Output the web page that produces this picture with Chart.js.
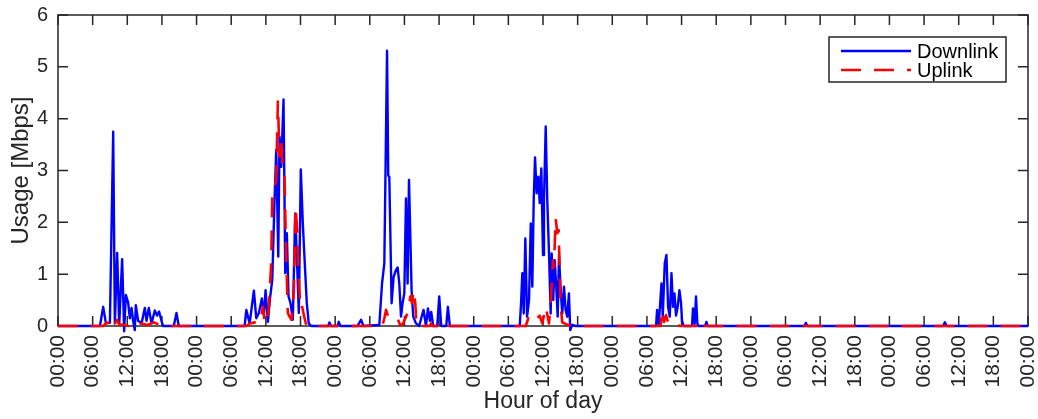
<!DOCTYPE html>
<html>
<head>
<meta charset="utf-8">
<title>Usage per hour of day</title>
<script src="https://cdn.jsdelivr.net/npm/chart.js@4.4.1/dist/chart.umd.min.js"></script>
<style>
  html, body { margin: 0; padding: 0; background: #fff; }
  canvas { display: block; }
</style>
</head>
<body>
<canvas id="usageChart" width="1038" height="419"></canvas>
<script>
// hours since start of the week -> Mbps
const downlink = [
    [0, 0],
    [7.26, 0], [7.83, 0.37], [8.30, 0.05], [8.99, 0.06], [9.56, 3.75], [9.85, 0.05], [10.25, 1.41], [10.60, 0.02],
    [11.11, 1.29], [11.46, -0.1], [11.75, 0.6], [12.15, 0.45], [12.44, 0.15], [12.74, 0.35], [13.01, 0.1], [13.30, -0.08],
    [13.48, 0.4], [13.88, 0.1], [14.47, 0.05], [15.04, 0.35], [15.33, 0.1], [15.73, 0.35], [16.20, 0.05], [16.77, 0.3],
    [17.16, 0.2], [17.51, 0.28], [17.92, 0.1], [18.20, 0],
    [20.05, 0], [20.52, 0.25], [20.91, 0],
    [32.32, 0], [32.62, 0.31], [33.19, 0.05], [33.93, 0.68], [34.34, 0.15], [34.79, 0.25], [35.31, 0.53], [35.66, 0.21],
    [35.95, 0.69], [36.35, 0.08], [36.76, 0.57], [37.11, 0.89], [37.51, 2.46], [37.80, 3.4], [38.15, 1.34], [38.37, 3.65],
    [38.66, 3.07], [39.06, 4.37], [39.36, 1.02], [39.63, 1.79], [39.93, 0.57], [40.27, 0.44], [40.67, 0.12], [41.08, 2.17],
    [41.43, 1.14], [41.71, 0.25], [42.05, 3.02], [42.40, 1.98], [42.74, 1.21], [43.09, 0.44], [43.43, 0.05], [43.85, 0],
    [46.80, 0], [47.01, 0.07], [47.27, 0], [48.40, 0], [48.62, 0.08], [48.91, 0],
    [51.85, 0], [52.49, 0.12], [52.89, 0],
    [55.65, 0.02], [56.12, 0.82], [56.52, 1.21], [56.99, 5.31], [57.20, 2.9], [57.38, 2.88], [57.78, 0.44], [58.13, 0.95],
    [58.54, 1.08], [58.82, 1.13], [59.11, 0.82], [59.41, 0.18], [59.68, 0.44], [59.98, 0.63], [60.27, 2.46], [60.55, 0.82],
    [60.79, 2.82], [61.01, 1.79], [61.24, 0.69], [61.53, 0.18], [62.00, 0.05], [62.57, 0], [62.91, 0.15], [63.31, 0.31],
    [63.73, 0], [64.07, 0.34], [64.42, 0.1], [64.64, 0.27], [64.99, 0], [65.68, 0], [66.03, 0.57], [66.37, 0],
    [67.24, 0], [67.53, 0.37], [67.87, 0],
    [79.97, 0], [80.20, 0.44], [80.42, 1.02], [80.66, 0.24], [80.94, 1.69], [81.24, 0.18], [81.58, 0.5], [81.88, 1.98],
    [82.15, 0.76], [82.39, 2.43], [82.62, 3.25], [82.91, 2.56], [83.19, 2.88], [83.43, 2.37], [83.71, 3.04], [84.00, 1.37],
    [84.17, 2.43], [84.47, 3.85], [84.74, 2.43], [85.04, 1.4], [85.33, 0.24], [85.50, 1.4], [85.78, 0.5], [86.02, 1.27],
    [86.30, 0.76], [86.54, 0.18], [86.77, 1.37], [87.06, 0.69], [87.34, 0.24], [87.63, 0.76], [87.92, 0.31], [88.20, 0.18],
    [88.49, 0.63], [88.72, -0.08], [89.06, 0.02], [89.65, 0],
    [103.58, 0], [103.76, 0.31], [104.05, 0.03], [104.52, 0.82], [104.74, 0.18], [105.09, 1.21], [105.38, 1.37],
    [105.66, 0.37], [105.95, 0.18], [106.25, 1.02], [106.52, 0.37], [106.77, 0.63], [107.04, 0.2], [107.33, 0.37],
    [107.63, 0.69], [107.91, 0.44], [108.08, 0.1], [108.37, 0],
    [109.81, 0], [109.98, 0.34], [110.27, 0.04], [110.50, 0.57], [110.74, 0.04], [110.96, 0],
    [112.09, 0], [112.30, 0.08], [112.52, 0],
    [129.29, 0], [129.51, 0.06], [129.80, 0],
    [153.31, 0], [153.60, 0.07], [153.91, 0],
    [168, 0]
];

const uplink = [
    [0, 0],
    [7.80, 0], [8.30, 0.05], [9.00, 0.08], [9.45, 0.18], [9.85, 0.05], [10.25, 0.12], [10.60, 0.02], [11.00, 0.03],
    [12.20, 0], [12.60, 0.05], [13.30, 0.08], [13.90, 0.03], [14.50, 0.05], [15.50, 0.02], [16.60, 0.07], [17.40, 0.03],
    [18.00, 0],
    [32.67, 0], [33.19, 0.05], [34.05, 0.07], [34.57, 0.04], [35.09, 0.1], [35.49, 0.37], [35.78, 0.1], [36.35, 0.05],
    [36.93, 1.21], [37.11, 2.5], [37.39, 2.53], [37.80, 2.88], [38.08, 4.33], [38.37, 3.27], [38.66, 3.65], [38.94, 2.95],
    [39.23, 2.88], [39.52, 1.34], [39.81, 0.25], [40.10, 0.18], [40.44, 0.12], [40.84, 0.63], [41.14, 2.3], [41.43, 1.85],
    [41.71, 0.89], [42.00, 0.31], [42.29, 0.37], [42.64, 0.18], [42.99, 0.02], [43.38, 0],
    [56.17, 0], [56.52, 0.15], [56.81, 0.31], [57.16, 0.19], [57.68, 0.15], [58.25, 0.12], [58.82, 0.15], [59.23, 0.02],
    [59.68, 0.03], [60.27, 0.18], [60.72, 0.31], [61.01, 0.57], [61.30, 0.44], [61.58, 0.69], [61.88, 0.44], [62.10, 0],
    [64.40, 0], [64.59, 0.05], [64.82, 0], [65.80, 0], [66.03, 0.05], [66.28, 0],
    [81.01, 0], [81.46, 0.15], [81.88, 0.1], [82.15, 0.18], [82.62, 0.17], [83.02, 0.15], [83.43, 0.2], [83.88, 0.05],
    [84.47, 0.37], [84.74, 0.22], [85.04, 0.05], [85.33, 0.44], [85.73, 1.27], [85.90, 1.14], [86.19, 2.08], [86.47, 1.79],
    [86.71, 1.85], [86.89, 1.08], [87.06, 0.37], [87.34, 0.07], [87.92, 0.04], [88.79, 0],
    [104.34, 0], [104.74, 0.31], [104.96, 0.08], [105.31, 0.21], [105.66, 0.07], [106.07, 0.1], [106.35, 0.04],
    [106.94, 0.02], [107.80, 0],
    [110.96, 0], [111.13, 0.1], [111.43, 0.02], [112.12, 0],
    [168, 0]
];

const hourLabels = ['00:00', '06:00', '12:00', '18:00'];
const seriesNames = ['Downlink', 'Uplink'];

const axisColor = '#262626';
const fontFamily = '"Liberation Sans", Arial, Helvetica, sans-serif';
const tickLen = 10;

// box, inward ticks and the legend, MATLAB style
const framePlugin = {
    id: 'frame',
    beforeDatasetsDraw(chart) {
        const { ctx, chartArea: a, scales: { x, y } } = chart;
        ctx.save();
        ctx.strokeStyle = axisColor;
        ctx.lineWidth = 1.5;
        ctx.strokeRect(a.left, a.top, a.right - a.left, a.bottom - a.top);
        ctx.beginPath();
        x.ticks.forEach(t => {
            const px = x.getPixelForValue(t.value);
            ctx.moveTo(px, a.bottom); ctx.lineTo(px, a.bottom - tickLen);
            ctx.moveTo(px, a.top); ctx.lineTo(px, a.top + tickLen);
        });
        y.ticks.forEach(t => {
            const py = y.getPixelForValue(t.value);
            ctx.moveTo(a.left, py); ctx.lineTo(a.left + tickLen, py);
            ctx.moveTo(a.right, py); ctx.lineTo(a.right - tickLen, py);
        });
        ctx.stroke();
        ctx.restore();
    },
    afterDatasetsDraw(chart) {
        const { ctx, chartArea: a } = chart;
        const w = 177, h = 45;
        const bx = a.right - 22 - w, by = a.top + 22;
        ctx.save();
        ctx.fillStyle = '#fff';
        ctx.fillRect(bx, by, w, h);
        ctx.strokeStyle = axisColor;
        ctx.lineWidth = 1.5;
        ctx.strokeRect(bx, by, w, h);
        ctx.font = '20px ' + fontFamily;
        ctx.textBaseline = 'middle';
        chart.data.datasets.forEach((ds, i) => {
            const ly = by + 14 + i * 19;
            ctx.strokeStyle = ds.borderColor;
            ctx.lineWidth = 2.5;
            ctx.setLineDash(ds.borderDash || []);
            ctx.beginPath();
            ctx.moveTo(bx + 12, ly);
            ctx.lineTo(bx + 82, ly);
            ctx.stroke();
            ctx.setLineDash([]);
            ctx.fillStyle = '#000';
            ctx.fillText(ds.label, bx + 88, ly + 1);
        });
        ctx.restore();
    }
};

const ctx = document.getElementById('usageChart').getContext('2d');
new Chart(ctx, {
    type: 'line',
    data: {
        datasets: [
            {
                label: seriesNames[0],
                data: downlink.map(p => ({ x: p[0], y: p[1] })),
                borderColor: '#0000ff',
                borderWidth: 2.4,
                pointRadius: 0,
                tension: 0,
                borderJoinStyle: 'round',
                clip: false,
                order: 2
            },
            {
                label: seriesNames[1],
                data: uplink.map(p => ({ x: p[0], y: p[1] })),
                borderColor: '#ff0000',
                borderWidth: 2.6,
                borderDash: [20, 13],
                pointRadius: 0,
                tension: 0,
                borderJoinStyle: 'round',
                clip: false,
                order: 1
            }
        ]
    },
    options: {
        responsive: false,
        animation: false,
        events: [],
        layout: { padding: { top: 15, right: 10, bottom: 0, left: 0 } },
        plugins: {
            legend: { display: false },
            tooltip: { enabled: false }
        },
        scales: {
            x: {
                type: 'linear',
                min: 0,
                max: 168,
                grid: { display: false, drawTicks: false },
                border: { display: false },
                ticks: {
                    stepSize: 6,
                    autoSkip: false,
                    minRotation: 90,
                    maxRotation: 90,
                    padding: 9,
                    color: axisColor,
                    font: { family: fontFamily, size: 21 },
                    callback: v => hourLabels[(Math.round(v / 6)) % 4]
                },
                title: {
                    display: true,
                    text: 'Hour of day',
                    color: axisColor,
                    font: { family: fontFamily, size: 23 },
                    padding: { top: 0, bottom: 4 }
                },
                afterFit(scale) {
                    scale.height = 93;
                    scale.paddingLeft = 0;
                    scale.paddingRight = 0;
                }
            },
            y: {
                min: 0,
                max: 6,
                grid: { display: false, drawTicks: false },
                border: { display: false },
                ticks: {
                    stepSize: 1,
                    padding: 10,
                    color: axisColor,
                    font: { family: fontFamily, size: 20 }
                },
                title: {
                    display: true,
                    text: 'Usage [Mbps]',
                    color: axisColor,
                    font: { family: fontFamily, size: 24 },
                    padding: { top: 7, bottom: 0 }
                },
                afterFit(scale) {
                    scale.width = 58;
                    scale.paddingTop = 0;
                    scale.paddingBottom = 0;
                }
            }
        }
    },
    plugins: [framePlugin]
});
</script>
</body>
</html>
